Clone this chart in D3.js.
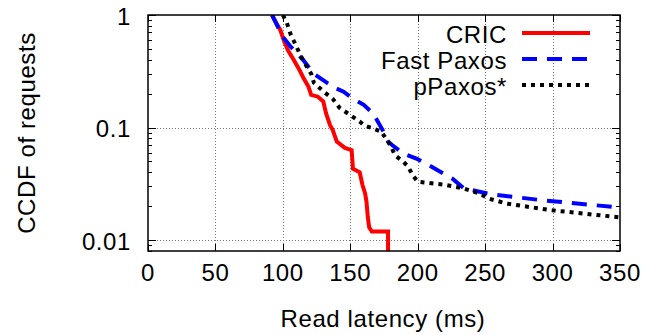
<!DOCTYPE html>
<html><head><meta charset="utf-8">
<script src="https://cdn.jsdelivr.net/npm/d3@7/dist/d3.min.js"></script>
<style>body{margin:0;background:#fff}svg{display:block}text{font-family:"Liberation Sans",Arial,sans-serif;fill:#000;letter-spacing:0.6px}</style>
</head><body><svg id="c" width="659" height="335"></svg>
<script>
const seriesNames = ["CRIC", "Fast Paxos", "pPaxos*"];
const cricLatency = [92,95,98,101,104,108,112,115,119,121,126,130,132,135,137,140,146,151,152,157,159,161,162,163,164,166,178,178];
const cricCcdf    = [1,0.85,0.74,0.58,0.48,0.40,0.33,0.28,0.23,0.195,0.188,0.17,0.134,0.105,0.095,0.075,0.066,0.063,0.043,0.040,0.031,0.026,0.022,0.016,0.013,0.0119,0.0119,0.005];
const fastLatency = [92,96,99,106,115,123,131,137,145,152,160,167,171,174,178,181,189,199,210,219,226,234,239,254,291,320,350];
const fastCcdf    = [1,0.8,0.66,0.52,0.40,0.30,0.258,0.23,0.208,0.18,0.159,0.133,0.11,0.095,0.075,0.07,0.059,0.053,0.045,0.039,0.035,0.029,0.028,0.0256,0.0227,0.021,0.0195];
const ppaxLatency = [100,103,106,109,113,117,121,123,130,137,142,150,157,160,167,173,178,181,183,189,193,196,200,220,234,246,252,266,298,350];
const ppaxCcdf    = [1,0.85,0.66,0.56,0.44,0.36,0.30,0.25,0.21,0.18,0.15,0.129,0.113,0.105,0.098,0.092,0.075,0.065,0.057,0.05,0.045,0.038,0.033,0.031,0.0288,0.0259,0.0235,0.0211,0.0185,0.0159];
const xTicks = [0,50,100,150,200,250,300,350];
const yTicks = [1,0.1,0.01];
const yTickLabels = ["1","0.1","0.01"];

const svg = d3.select("#c");
const L=148,R=620,T=15,B=251;
const FS=24;
const x = d3.scaleLinear().domain([0,350]).range([L,R]);
const y = d3.scaleLog().domain([0.008,1]).range([B,T]);

svg.append("defs").append("clipPath").attr("id","clip").append("rect")
  .attr("x",L).attr("y",T).attr("width",R-L).attr("height",B-T);

// grid
const grid = svg.append("g").attr("stroke","#777").attr("stroke-width",1).attr("stroke-dasharray","1,2");
xTicks.filter(v=>v>0&&v<350).forEach(v=>{
  grid.append("line").attr("x1",Math.round(x(v))+0.5).attr("x2",Math.round(x(v))+0.5).attr("y1",T).attr("y2",B);
});
yTicks.filter(v=>v<1).forEach(v=>{
  grid.append("line").attr("y1",Math.round(y(v))+0.5).attr("y2",Math.round(y(v))+0.5).attr("x1",L).attr("x2",R);
});

// ticks
const tk = svg.append("g").attr("stroke","#000").attr("stroke-width",1);
xTicks.forEach(v=>{
  const px=Math.round(x(v))+0.5;
  tk.append("line").attr("x1",px).attr("x2",px).attr("y1",B).attr("y2",B-7);
  tk.append("line").attr("x1",px).attr("x2",px).attr("y1",T).attr("y2",T+7);
});
const minor=[];
[0.001,0.01,0.1].forEach(d=>{for(let k=2;k<=9;k++){const v=d*k; if(v>=0.008&&v<1) minor.push(v);}});
yTicks.forEach(v=>{
  const py=Math.round(y(v))+0.5;
  tk.append("line").attr("y1",py).attr("y2",py).attr("x1",L).attr("x2",L+8);
  tk.append("line").attr("y1",py).attr("y2",py).attr("x1",R).attr("x2",R-8);
});
minor.forEach(v=>{
  const py=Math.round(y(v))+0.5;
  tk.append("line").attr("y1",py).attr("y2",py).attr("x1",L).attr("x2",L+4);
  tk.append("line").attr("y1",py).attr("y2",py).attr("x1",R).attr("x2",R-4);
});

// tick labels
svg.append("g").selectAll("text").data(xTicks).join("text")
  .attr("x",d=>x(d)).attr("y",272).attr("text-anchor","middle").attr("dominant-baseline","central")
  .attr("font-size",FS).text(d=>d);
svg.append("g").selectAll("text").data(yTicks).join("text")
  .attr("x",131).attr("y",d=>y(d)+1).attr("text-anchor","end").attr("dominant-baseline","central")
  .attr("font-size",FS).text((d,i)=>yTickLabels[i]);

svg.append("text").attr("x",(L+R)/2-1).attr("y",318).attr("text-anchor","middle").attr("dominant-baseline","central")
  .attr("font-size",FS).text("Read latency (ms)");
svg.append("text").attr("transform","translate(26,133) rotate(-90)").attr("text-anchor","middle").attr("dominant-baseline","central")
  .attr("font-size",FS).text("CCDF of requests");

// series
const series = [
  {name:seriesNames[0], xs:cricLatency, ys:cricCcdf, color:"#ff0000", dash:null},
  {name:seriesNames[1], xs:fastLatency, ys:fastCcdf, color:"#0000ff", dash:"15,10"},
  {name:seriesNames[2], xs:ppaxLatency, ys:ppaxCcdf, color:"#000000", dash:"4,5"}
];
const line = d3.line().x(d=>x(d[0])).y(d=>y(d[1]));
const plot = svg.append("g").attr("clip-path","url(#clip)");
series.forEach(s=>{
  plot.append("path").datum(s.xs.map((v,i)=>[v,s.ys[i]]))
    .attr("d",line).attr("fill","none").attr("stroke",s.color).attr("stroke-width",4)
    .attr("stroke-linejoin","miter").attr("stroke-dasharray",s.dash);
});

// legend
const legY=[34,60,86];
series.forEach((s,i)=>{
  svg.append("text").attr("x",507).attr("y",legY[i]).attr("text-anchor","end").attr("dominant-baseline","central")
    .attr("font-size",FS).text(s.name);
  svg.append("line").attr("x1",522).attr("x2",590).attr("y1",legY[i]-1).attr("y2",legY[i]-1)
    .attr("stroke",s.color).attr("stroke-width",4).attr("stroke-dasharray",s.dash);
});

// frame
svg.append("rect").attr("x",L).attr("y",T).attr("width",R-L).attr("height",B-T)
  .attr("fill","none").attr("stroke","#000").attr("stroke-width",1.5);
</script></body></html>
